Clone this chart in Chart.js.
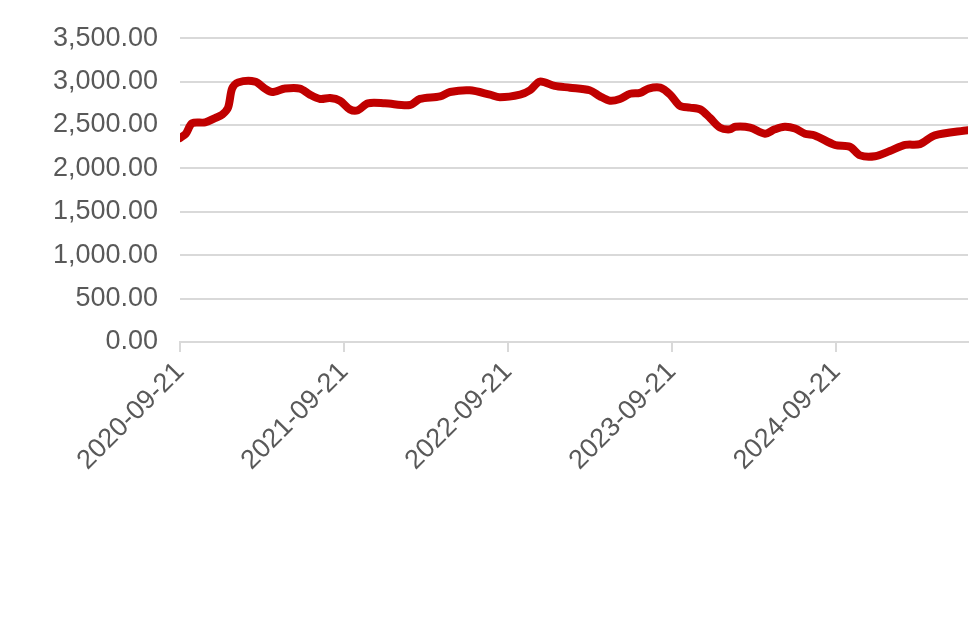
<!DOCTYPE html><html><head><script src="https://cdn.jsdelivr.net/npm/chart.js@4"></script>
<style>body{margin:0;background:#fff}</style></head><body><canvas id="c" width="980" height="617" style="width:980px;height:617px"></canvas>
<script>
const startDate = "2020-09-21";
const tickLabels = ["2020-09-21","2021-09-21","2022-09-21","2023-09-21","2024-09-21"];
const tickDays = [0,365,730,1095,1461];
const days = [0,13,27,56,78,94,107,116,129,167,189,205,234,267,289,312,334,356,378,396,418,456,512,534,579,601,645,690,712,757,779,801,834,868,912,935,957,979,1002,1024,1043,1069,1091,1113,1135,1158,1180,1202,1224,1236,1269,1302,1324,1346,1369,1391,1413,1458,1491,1514,1547,1580,1614,1647,1680,1754];
const values = [2350,2400,2520,2530,2580,2620,2700,2920,2990,3000,2920,2880,2920,2920,2850,2800,2810,2780,2680,2670,2750,2750,2730,2800,2830,2880,2900,2850,2820,2850,2900,3000,2950,2930,2900,2830,2780,2800,2860,2870,2920,2930,2850,2720,2700,2680,2580,2470,2450,2480,2470,2400,2450,2480,2460,2400,2380,2270,2250,2150,2140,2200,2270,2280,2380,2440];
const fnt = {family:"'Liberation Sans', Arial, sans-serif", size:27};
new Chart(document.getElementById('c'),{type:'line',
data:{datasets:[{data:days.map((d,i)=>({x:d,y:values[i]})),borderColor:'#C00000',borderWidth:8,pointRadius:0,tension:0.3,borderCapStyle:'round',borderJoinStyle:'round'}]},
options:{responsive:false,animation:false,devicePixelRatio:1,
layout:{padding:{top:26,right:12,left:0,bottom:0}},
plugins:{legend:{display:false},tooltip:{enabled:false}},
scales:{
x:{type:'linear',min:0,max:1754,
 afterBuildTicks:a=>{a.ticks=tickDays.map(v=>({value:v}));},
 afterFit:a=>{a.height=275;},
 ticks:{minRotation:45,maxRotation:45,autoSkip:false,color:'#595959',font:fnt,padding:4,
  callback:(v)=>tickLabels[tickDays.indexOf(v)]},
 grid:{drawOnChartArea:false,color:'#d9d9d9',tickLength:10,lineWidth:2},
 border:{color:'#d9d9d9',width:2}},
y:{min:0,max:3500,
 afterFit:a=>{a.width=180;},
 ticks:{stepSize:500,color:'#595959',font:fnt,padding:22,
  callback:v=>v.toLocaleString('en-US',{minimumFractionDigits:2,maximumFractionDigits:2})},
 grid:{color:'#d9d9d9',lineWidth:2,drawTicks:false},border:{display:false}}
}}});
</script></body></html>
